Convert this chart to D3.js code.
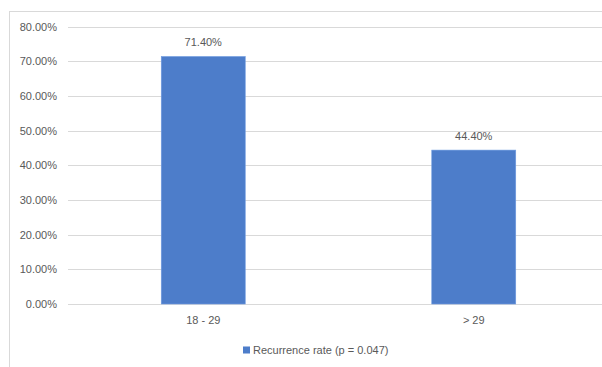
<!DOCTYPE html>
<html>
<head>
<meta charset="utf-8">
<script src="https://cdn.jsdelivr.net/npm/d3@7"></script>
<style>
  html, body { margin: 0; padding: 0; background: #fff; }
  svg { display: block; font-family: "Liberation Sans", Arial, sans-serif; }
</style>
</head>
<body>
<div id="chart"></div>
<script>
// Recurrence rate by age group
const categories = ["18 - 29", "> 29"];
const values = [71.4, 44.4];
const yTicks = [0, 10, 20, 30, 40, 50, 60, 70, 80];
const seriesName = "Recurrence rate (p = 0.047)";

const W = 602, H = 367;
const plot = { left: 68, right: 609, top: 26.7, bottom: 304 };
const textColor = "#595959";
const gridColor = "#d9d9d9";
const barColor = "#4d7dca";

const svg = d3.select("#chart").append("svg")
  .attr("width", W).attr("height", H);

// chart frame
svg.append("rect")
  .attr("x", 9.5).attr("y", 11.5)
  .attr("width", 800).attr("height", 500)
  .attr("fill", "#fff").attr("stroke", gridColor);

const y = d3.scaleLinear().domain([0, 80]).range([plot.bottom, plot.top]);
const p = 0.6895;
const x = d3.scaleBand().domain(categories)
  .range([plot.left, plot.right])
  .paddingInner(p).paddingOuter(p / 2);

// gridlines + y labels
const yAxis = d3.axisLeft(y)
  .tickValues(yTicks)
  .tickSize(-(plot.right - plot.left))
  .tickPadding(11)
  .tickFormat(d => d.toFixed(2) + "%");

const gy = svg.append("g")
  .attr("transform", `translate(${plot.left},0)`)
  .call(yAxis);
gy.select(".domain").remove();
gy.selectAll(".tick line").attr("stroke", gridColor).attr("stroke-width", 1)
  .attr("shape-rendering", "crispEdges");
gy.selectAll(".tick text").attr("fill", textColor).attr("font-size", 11);

// category labels
const xAxis = d3.axisBottom(x).tickSize(0).tickPadding(12);
const gx = svg.append("g")
  .attr("transform", `translate(0,${plot.bottom})`)
  .call(xAxis);
gx.select(".domain").remove();
gx.selectAll(".tick text").attr("fill", textColor).attr("font-size", 11);

// bars
svg.append("g").selectAll("rect")
  .data(values)
  .join("rect")
  .attr("x", (d, i) => x(categories[i]))
  .attr("y", d => y(d))
  .attr("width", x.bandwidth())
  .attr("height", d => y(0) - y(d))
  .attr("fill", barColor)
  .attr("stroke", "#6f9be0")
  .attr("stroke-width", 0.6);

// value labels
svg.append("g").selectAll("text")
  .data(values)
  .join("text")
  .attr("x", (d, i) => x(categories[i]) + x.bandwidth() / 2)
  .attr("y", d => y(d) - 14)
  .attr("dy", "0.35em")
  .attr("text-anchor", "middle")
  .attr("fill", textColor)
  .attr("font-size", 11)
  .text(d => d.toFixed(2) + "%");

// legend
const lg = svg.append("g").attr("transform", "translate(243,350)");
lg.append("rect")
  .attr("x", 0).attr("y", -3.5)
  .attr("width", 7).attr("height", 7)
  .attr("fill", barColor);
lg.append("text")
  .attr("x", 10).attr("y", 0).attr("dy", "0.35em")
  .attr("fill", textColor).attr("font-size", 11)
  .text(seriesName);
</script>
</body>
</html>
